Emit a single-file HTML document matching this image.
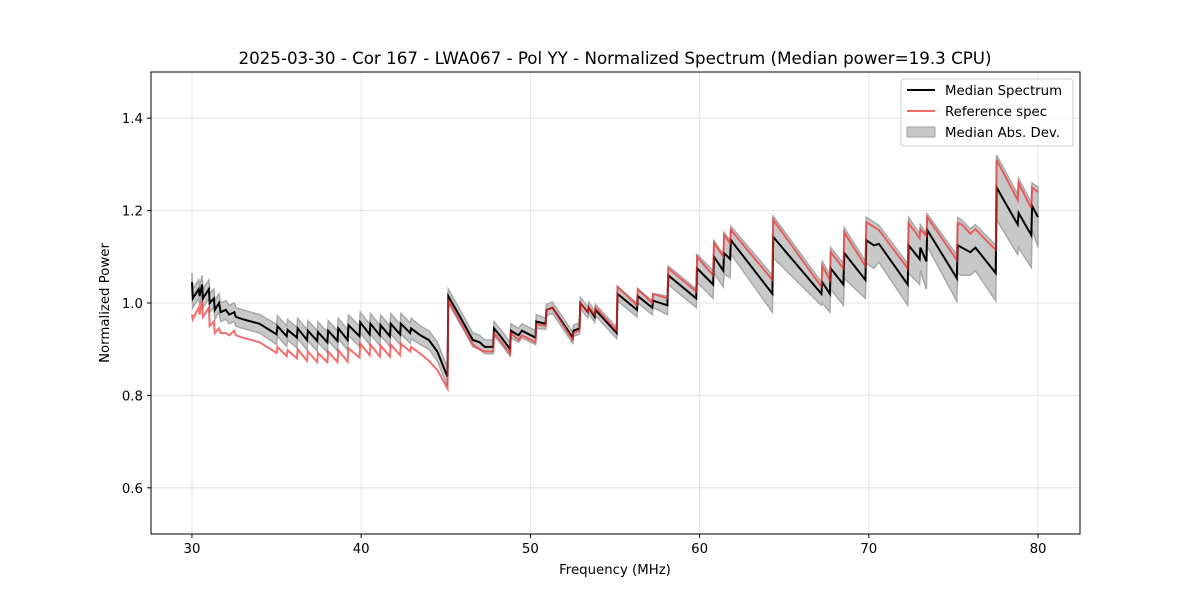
<!DOCTYPE html>
<html><head><meta charset="utf-8"><style>
body{margin:0;background:#fff;}
svg{display:block;font-family:"DejaVu Sans","Liberation Sans",sans-serif;}
</style></head><body>
<svg id="chart" width="1200" height="600">
<rect x="0" y="0" width="1200" height="600" fill="#fff"/>
<g id="grid"></g><g id="marks"></g><g id="axes"></g>
<text x="615" y="64" text-anchor="middle" font-size="16.7">2025-03-30 - Cor 167 - LWA067 - Pol YY - Normalized Spectrum (Median power=19.3 CPU)</text>
<text x="615" y="574" text-anchor="middle" font-size="13.3">Frequency (MHz)</text>
<text x="109" y="303" text-anchor="middle" font-size="13.3" transform="rotate(-90 109 303)">Normalized Power</text>
<g>
<rect x="901" y="79" width="172" height="67" rx="3" fill="#fff" fill-opacity="0.8" stroke="#ccc"/>
<g><line x1="907" y1="90" x2="935" y2="90" stroke="#000" stroke-width="2"/><text x="945" y="95" font-size="13.3">Median Spectrum</text></g>
<g><line x1="907" y1="111" x2="935" y2="111" stroke="#f05050" stroke-opacity="0.85" stroke-width="2"/><text x="945" y="116" font-size="13.3">Reference spec</text></g>
<g><rect x="907" y="127" width="28" height="10" fill="#c8c8c8" stroke="#a0a0a0"/><text x="945" y="137" font-size="13.3">Median Abs. Dev.</text></g>
</g>
</svg>
<script>
const freqs=[30.0,30.05,30.4,30.45,30.6,30.65,31.0,31.05,31.3,31.35,31.6,31.7,32.0,32.2,32.5,32.6,33,34,35.0,35.05,35.6,35.65,36.2,36.25,36.8,36.85,37.4,37.45,38.0,38.05,38.6,38.65,39.2,39.25,39.9,39.95,40.5,40.55,41.1,41.15,41.7,41.75,42.3,42.35,42.9,42.95,43.5,44.0,44.5,45.1,45.15,46.0,46.6,47.0,47.3,47.8,47.85,48.3,48.8,48.85,49.3,49.5,50.3,50.35,50.9,50.95,51.3,52.5,52.55,52.9,52.95,53.4,53.45,53.8,53.85,55.1,55.15,56.3,56.35,57.2,57.25,58.1,58.15,59.8,59.85,60.8,60.85,61.4,61.45,61.8,61.85,64.3,64.35,67.2,67.25,67.7,67.75,68.5,68.55,69.8,69.85,70.3,70.6,72.3,72.35,73.0,73.05,73.4,73.45,75.2,75.25,75.5,76.0,76.3,77.5,77.55,78.8,78.85,79.6,79.65,80.0];
const medianVals=[1.045,1.01,1.03,1.015,1.04,1.01,1.03,1.0,1.01,0.985,1.0,0.98,0.985,0.975,0.98,0.97,0.965,0.955,0.932,0.95,0.928,0.942,0.925,0.945,0.92,0.94,0.918,0.937,0.915,0.94,0.918,0.945,0.92,0.952,0.928,0.958,0.932,0.955,0.93,0.952,0.928,0.955,0.932,0.955,0.935,0.945,0.93,0.92,0.895,0.84,1.015,0.96,0.92,0.915,0.905,0.905,0.945,0.925,0.9,0.94,0.93,0.94,0.925,0.96,0.955,0.985,0.99,0.925,0.94,0.945,1.0,0.98,0.99,0.97,0.985,0.935,1.02,0.985,1.015,0.99,1.005,0.995,1.06,1.01,1.075,1.04,1.1,1.07,1.108,1.095,1.136,1.02,1.143,1.02,1.045,1.02,1.075,1.04,1.108,1.05,1.136,1.125,1.128,1.04,1.125,1.095,1.12,1.09,1.158,1.054,1.125,1.12,1.11,1.12,1.065,1.25,1.17,1.195,1.147,1.21,1.186];
const refVals=[0.975,0.965,0.99,0.975,1.005,0.97,0.99,0.95,0.96,0.935,0.945,0.935,0.935,0.93,0.94,0.93,0.925,0.915,0.892,0.905,0.885,0.898,0.88,0.9,0.875,0.895,0.872,0.892,0.872,0.895,0.872,0.898,0.873,0.902,0.882,0.912,0.887,0.91,0.884,0.908,0.884,0.91,0.887,0.912,0.895,0.905,0.89,0.875,0.855,0.815,1.005,0.95,0.91,0.9,0.895,0.895,0.935,0.915,0.89,0.935,0.92,0.93,0.915,0.955,0.95,0.985,0.99,0.92,0.935,0.94,1.0,0.98,0.99,0.975,0.99,0.94,1.035,0.995,1.03,1.0,1.02,1.01,1.075,1.025,1.1,1.06,1.13,1.1,1.147,1.13,1.158,1.05,1.18,1.035,1.08,1.05,1.11,1.075,1.153,1.08,1.175,1.165,1.158,1.075,1.173,1.14,1.16,1.145,1.186,1.093,1.173,1.17,1.15,1.16,1.115,1.31,1.223,1.26,1.205,1.25,1.24];
const madVals=[0.02,0.02,0.02,0.02,0.02,0.02,0.02,0.02,0.02,0.02,0.02,0.02,0.02,0.02,0.02,0.02,0.02,0.02,0.022,0.022,0.022,0.022,0.022,0.022,0.022,0.022,0.022,0.022,0.022,0.022,0.022,0.022,0.022,0.022,0.022,0.022,0.022,0.022,0.022,0.022,0.022,0.022,0.022,0.022,0.022,0.022,0.02,0.02,0.02,0.02,0.015,0.015,0.015,0.015,0.015,0.015,0.015,0.015,0.015,0.015,0.015,0.015,0.015,0.015,0.012,0.012,0.012,0.012,0.012,0.012,0.012,0.012,0.012,0.012,0.012,0.012,0.015,0.015,0.015,0.015,0.015,0.02,0.02,0.02,0.03,0.03,0.035,0.035,0.045,0.04,0.03,0.04,0.045,0.025,0.045,0.04,0.045,0.045,0.055,0.04,0.05,0.05,0.04,0.045,0.06,0.055,0.05,0.06,0.035,0.05,0.06,0.06,0.05,0.05,0.06,0.07,0.065,0.075,0.07,0.05,0.065];
const xTicks=[30,40,50,60,70,80];
const yTicks=[0.6,0.8,1.0,1.2,1.4];
const L=151,R=1080,T=72,B=534,X0=27.58,X1=82.48,Y0=0.5,Y1=1.5;
const xs=f=>L+(f-X0)/(X1-X0)*(R-L);
const ys=v=>B-(v-Y0)/(Y1-Y0)*(B-T);
const NS='http://www.w3.org/2000/svg';
function mk(tag,attrs,parent){const e=document.createElementNS(NS,tag);for(const k in attrs)e.setAttribute(k,attrs[k]);parent.appendChild(e);return e;}
const grid=document.getElementById('grid'),marks=document.getElementById('marks'),axes=document.getElementById('axes');
xTicks.forEach(t=>{const x=xs(t);
const g=mk('line',{x1:x,x2:x,y1:T,y2:B,stroke:'#e3e3e3','stroke-width':1},grid);


mk('line',{x1:x,x2:x,y1:B,y2:B+4,stroke:'#000'},axes);
const tx=mk('text',{x:x,y:B+19,'text-anchor':'middle','font-size':13.3},axes);tx.textContent=t;

});
yTicks.forEach(t=>{const y=ys(t);
const g=mk('line',{x1:L,x2:R,y1:y,y2:y,stroke:'#e3e3e3','stroke-width':1},grid);


mk('line',{x1:L-4,x2:L,y1:y,y2:y,stroke:'#000'},axes);
const tx=mk('text',{x:L-8,y:y+5,'text-anchor':'end','font-size':13.3},axes);tx.textContent=t.toFixed(1);

});
const fr=mk('rect',{x:L,y:T,width:R-L,height:B-T,fill:'none',stroke:'#000','stroke-width':1},axes);


let up=[],lo=[];
freqs.forEach((f,i)=>{up.push(xs(f).toFixed(1)+','+ys(medianVals[i]+madVals[i]).toFixed(1));lo.push(xs(f).toFixed(1)+','+ys(medianVals[i]-madVals[i]).toFixed(1));});
const band=mk('polygon',{points:up.concat(lo.reverse()).join(' '),fill:'#c8c8c8',stroke:'#a8a8a8','stroke-width':1.5},marks);


const mline=mk('polyline',{points:freqs.map((f,i)=>xs(f).toFixed(1)+','+ys(medianVals[i]).toFixed(1)).join(' '),fill:'none',stroke:'#000','stroke-width':2},marks);


const rline=mk('polyline',{points:freqs.map((f,i)=>xs(f).toFixed(1)+','+ys(refVals[i]).toFixed(1)).join(' '),fill:'none',stroke:'#f03030','stroke-opacity':0.7,'stroke-width':2},marks);


</script>
</body></html>
